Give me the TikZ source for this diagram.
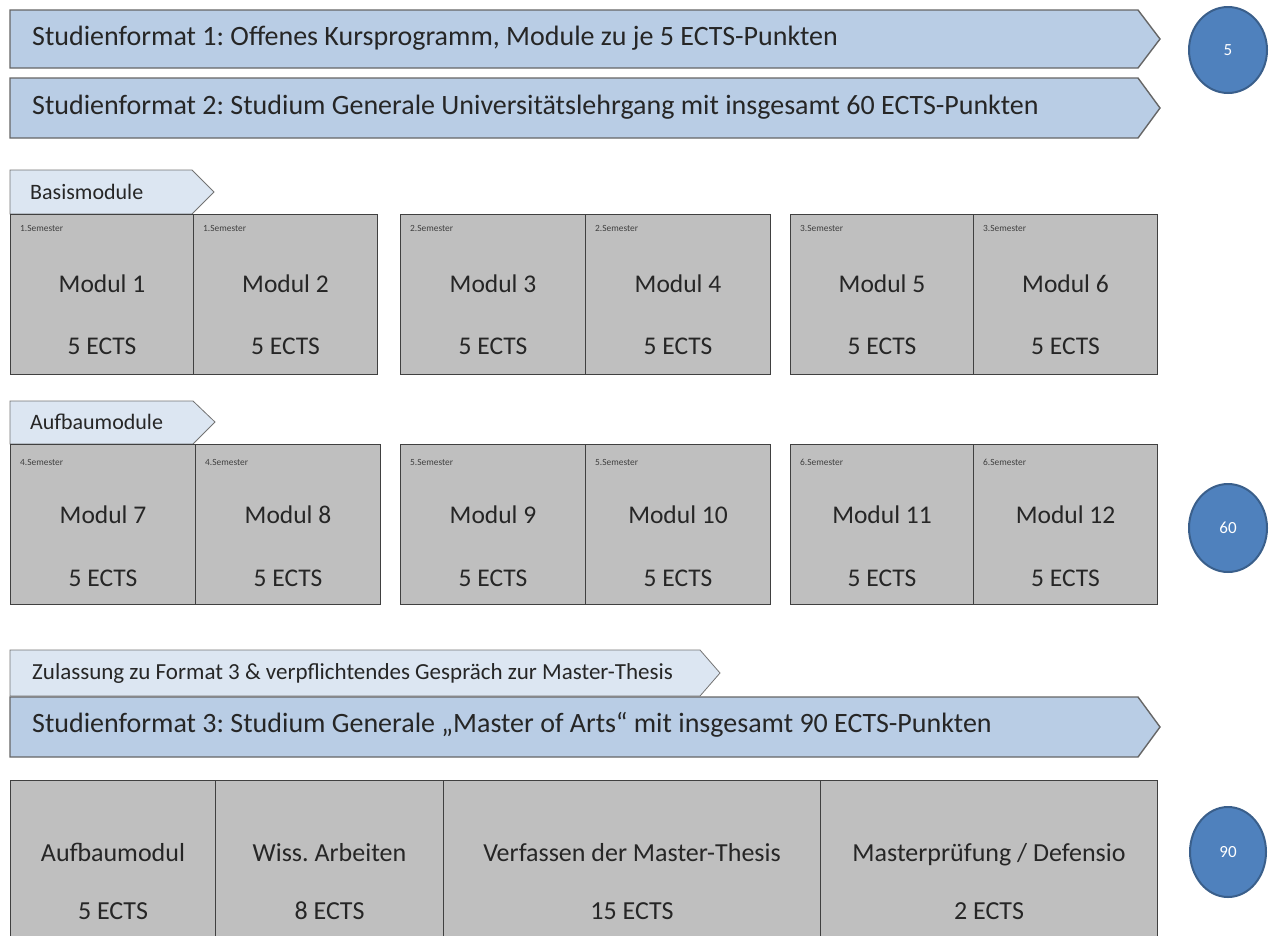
\documentclass[tikz,border=0pt]{standalone}
\usepackage{fontspec}
\setmainfont{Carlito}
\frenchspacing
\definecolor{bandblue}{HTML}{B9CDE5}
\definecolor{tabblue}{HTML}{DCE6F2}
\definecolor{modgray}{HTML}{BFBFBF}
\definecolor{dotblue}{HTML}{4F81BD}
\definecolor{dotrim}{HTML}{3A5F8B}
\definecolor{ink}{HTML}{262626}
\tikzset{
  band/.style={draw=black!60, line width=1.4pt, fill=bandblue},
  tab/.style={draw=black!55, line width=0.8pt, fill=tabblue},
  modbox/.style={draw=black!75, line width=1pt, fill=modgray, inner sep=0pt},
  dot/.style={draw=dotrim, line width=2pt, fill=dotblue},
  bandtext/.style={text=ink, font=\fontsize{28}{32}\selectfont, anchor=west, inner sep=0pt},
  tabtext/.style={text=ink, font=\fontsize{22}{26}\selectfont, anchor=west, inner sep=0pt},
  semtext/.style={text=black!75, font=\fontsize{9.4}{11}\selectfont, anchor=west, inner sep=0pt},
  modtext/.style={text=ink, font=\fontsize{25.5}{30}\selectfont, inner sep=0pt, text height=0.68em, text depth=0.18em},
  dottext/.style={text=white, font=\fontsize{17}{20}\selectfont, inner sep=0pt}
}
\begin{document}
\begin{tikzpicture}[x=1pt, y=-1pt]
\useasboundingbox (0,0) rectangle (1279,935);
% Studienformat 1 und 2
\draw[band] (10,10) -- (1138,10) -- (1160,39) -- (1138,68) -- (10,68) -- cycle;
\node[bandtext] (sf1) at (32,38) {Studienformat 1: Offenes Kursprogramm, Module zu je 5 ECTS-Punkten};
\draw[band] (10,78) -- (1138,78) -- (1160,108) -- (1138,138) -- (10,138) -- cycle;
\node[bandtext] (sf2) at (32,107) {Studienformat 2: Studium Generale Universitätslehrgang mit insgesamt 60 ECTS-Punkten};
\draw[dot] (1228,50) ellipse (39pt and 43pt);
\node[dottext] (p5) at (1228,50) {5};
% Basismodule
\draw[tab] (10,170) -- (192,170) -- (214,192) -- (192,214) -- (10,214) -- cycle;
\node[tabtext] (basis) at (30,192) {Basismodule};
\foreach \i/\x/\w/\s in {1/10/183/1, 2/193/184/1, 3/400/185/2, 4/585/185/2, 5/790/183/3, 6/973/184/3}{
  \node[modbox, minimum width=\w, minimum height=160, anchor=north west] (m\i) at (\x,214) {};
  \node[semtext] (s\i) at ([xshift=10pt, yshift=-14pt]m\i.north west) {\s.Semester};
  \node[modtext] (t\i) at ([yshift=5pt]m\i.center) {Modul \i};
  \node[modtext] (e\i) at ([yshift=-57pt]m\i.center) {5 ECTS};
}
% Aufbaumodule
\draw[tab] (10,401) -- (193,401) -- (215,422) -- (193,444) -- (10,444) -- cycle;
\node[tabtext] (aufbau) at (30,422) {Aufbaumodule};
\foreach \i/\x/\w/\s in {7/10/185/4, 8/195/185/4, 9/400/185/5, 10/585/185/5, 11/790/183/6, 12/973/184/6}{
  \node[modbox, minimum width=\w, minimum height=160, anchor=north west] (m\i) at (\x,444) {};
  \node[semtext] (s\i) at ([xshift=10pt, yshift=-18pt]m\i.north west) {\s.Semester};
  \node[modtext] (t\i) at ([yshift=4pt]m\i.center) {Modul \i};
  \node[modtext] (e\i) at ([yshift=-59pt]m\i.center) {5 ECTS};
}
\draw[dot] (1228,528) ellipse (39pt and 44pt);
\node[dottext] (p60) at (1228,528) {60};
% Studienformat 3
\draw[tab] (10,650) -- (700,650) -- (720,673) -- (700,696) -- (10,696) -- cycle;
\node[tabtext, font=\fontsize{23}{26}\selectfont] (zul) at (32,673) {Zulassung zu Format 3 \& verpflichtendes Gespräch zur Master-Thesis};
\draw[band] (10,697) -- (1138,697) -- (1160,727) -- (1138,757) -- (10,757) -- cycle;
\node[bandtext] (sf3) at (32,725) {Studienformat 3: Studium Generale „Master of Arts“ mit insgesamt 90 ECTS-Punkten};
\foreach \n/\x/\w/\a/\b in {a/10/205/Aufbaumodul/5, b/215/228/Wiss. Arbeiten/8, c/443/377/Verfassen der Master-Thesis/15, d/820/337/{Masterprüfung / Defensio}/2}{
  \node[modbox, minimum width=\w, minimum height=170, anchor=north west] (f\n) at (\x,780) {};
  \node[modtext, font=\fontsize{26}{30}\selectfont] (ft\n) at ([yshift=-79pt]f\n.north) {\a};
  \node[modtext, font=\fontsize{26}{30}\selectfont] (fe\n) at ([yshift=-137pt]f\n.north) {\b\ ECTS};
}
\draw[dot] (1228,852) ellipse (38pt and 45pt);
\node[dottext] (p90) at (1228,852) {90};
\end{tikzpicture}
\end{document}
